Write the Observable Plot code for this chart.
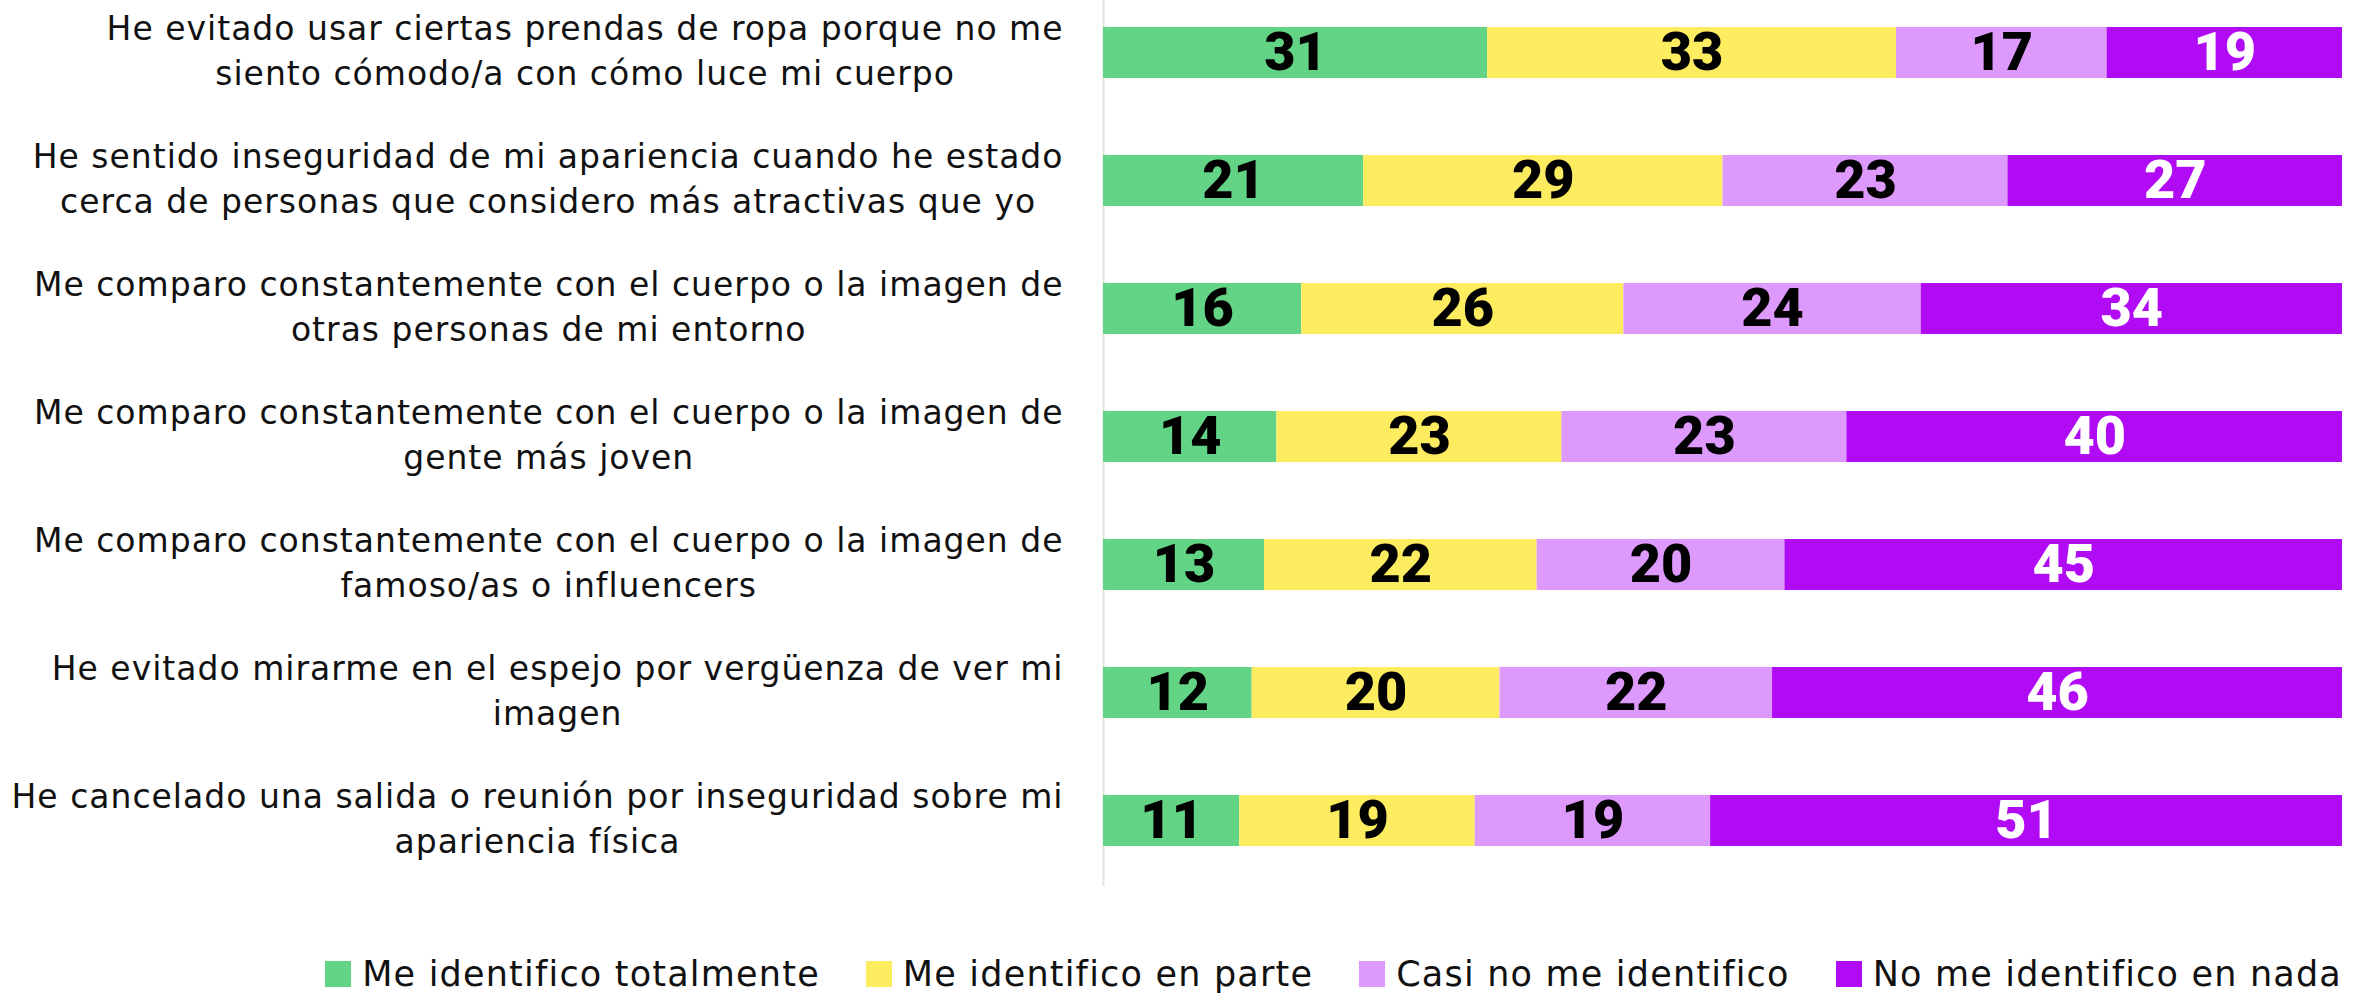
<!DOCTYPE html>
<html><head><meta charset="utf-8">
<script src="https://cdn.jsdelivr.net/npm/d3@7"></script>
<script src="https://cdn.jsdelivr.net/npm/@observablehq/plot@0.6"></script>
<style>
body{margin:0;background:#fff;}
#chart{width:2362px;}
.lg-swatches{margin-top:69px;margin-bottom:0 !important;}
.lg-swatches-wrap{justify-content:flex-end;padding-right:20px;min-height:38px !important;line-height:38px;}
.lg-swatch{margin-right:46px !important;}
.lg-swatch:last-child{margin-right:0 !important;}
.lg-swatch > svg{margin-right:11px !important;}
</style>
</head><body><div id="chart"></div>
<script>
const questions = [
  "He evitado usar ciertas prendas de ropa porque no me\nsiento cómodo/a con cómo luce mi cuerpo",
  "He sentido inseguridad de mi apariencia cuando he estado\ncerca de personas que considero más atractivas que yo",
  "Me comparo constantemente con el cuerpo o la imagen de\notras personas de mi entorno",
  "Me comparo constantemente con el cuerpo o la imagen de\ngente más joven",
  "Me comparo constantemente con el cuerpo o la imagen de\nfamoso/as o influencers",
  "He evitado mirarme en el espejo por vergüenza de ver mi\nimagen",
  "He cancelado una salida o reunión por inseguridad sobre mi\napariencia física"
];
const categories = ["Me identifico totalmente", "Me identifico en parte", "Casi no me identifico", "No me identifico en nada"];
const colors = ["#63d385", "#fdec5f", "#de99fc", "#b10af5"];
const totalmente = [31, 21, 16, 14, 13, 12, 11];
const enParte    = [33, 29, 26, 23, 22, 20, 19];
const casiNo     = [17, 23, 24, 23, 20, 22, 19];
const nada       = [19, 27, 34, 40, 45, 46, 51];
const series = [totalmente, enParte, casiNo, nada];

const data = questions.flatMap((q, i) => categories.map((c, j) => ({q, cat: c, value: series[j][i]})));

const FONT = "'DejaVu Sans', sans-serif";
const NUMFONT = "Roboto, sans-serif";

const plot = Plot.plot({
  width: 2362,
  height: 886,
  marginLeft: 1103,
  marginRight: 20,
  marginTop: 12,
  marginBottom: 25,
  style: {fontFamily: FONT, background: "#fff"},
  x: {domain: [0, 100], axis: null},
  y: {domain: questions, paddingInner: 0.6, paddingOuter: 0.1},
  color: {domain: categories, range: colors},
  marks: [
    Plot.ruleX([0], {stroke: "#e2e2e2", strokeWidth: 2, insetTop: -12, insetBottom: -25}),
    Plot.barX(data, {x: "value", y: "q", fill: "cat"}),
    Plot.text(data, Plot.filter(d => d.cat !== categories[3],
      Plot.stackX({x: "value", y: "q", z: "cat", text: d => String(d.value), fill: "#000", fontSize: 54, fontWeight: 900, fontFamily: NUMFONT}))),
    Plot.text(data, Plot.filter(d => d.cat === categories[3],
      Plot.stackX({x: "value", y: "q", z: "cat", text: d => String(d.value), fill: "#fff", fontSize: 54, fontWeight: 900, fontFamily: NUMFONT}))),
    Plot.axisY({tickSize: 0, tickPadding: 40, fontSize: 33, lineHeight: 1.38, dy: -5, color: "#111", label: null})
  ]
});
document.getElementById("chart").append(plot);

const axisG = plot.querySelector('g[aria-label="y-axis tick label"]');
axisG.style.letterSpacing = "1px";
axisG.querySelectorAll("text").forEach(t => {
  const w = t.getBBox().width;
  t.setAttribute("text-anchor", "middle");
  t.setAttribute("transform", (t.getAttribute("transform") || "") + ` translate(${-w / 2},0)`);
});

const legend = plot.legend("color", {
  className: "lg",
  swatchSize: 26,
  style: {fontFamily: FONT, fontSize: "35px", letterSpacing: "1.2px", color: "#111"}
});
document.getElementById("chart").append(legend);
</script>
</body></html>
